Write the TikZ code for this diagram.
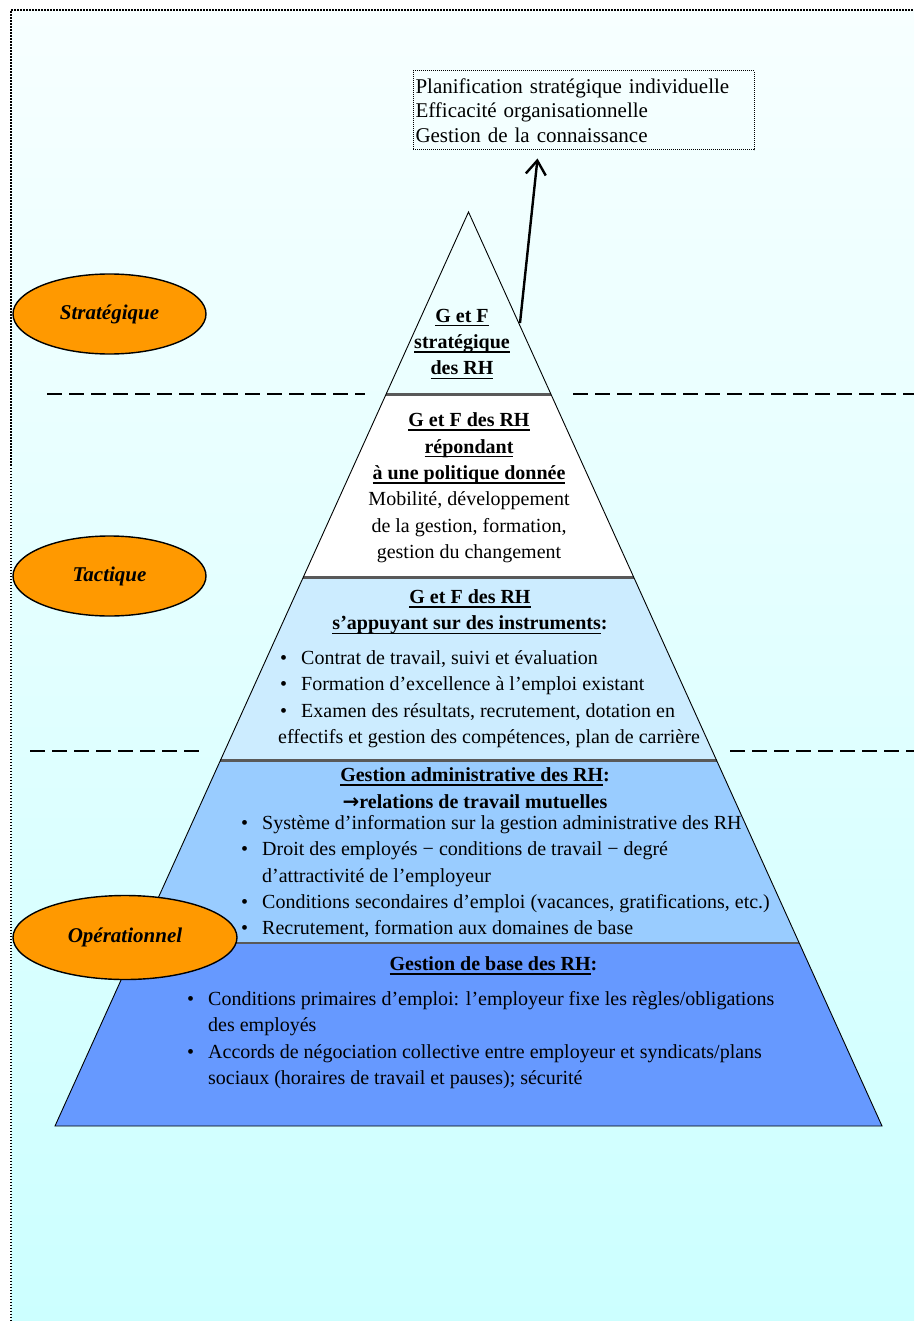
\documentclass[tikz,border=0pt]{standalone}
\usepackage{fontspec}
\setmainfont{Liberation Serif}
\newfontfamily\arrowfont{DejaVu Sans}
\usetikzlibrary{arrows.meta,shapes.geometric,calc}
\definecolor{bgtop}{RGB}{247,255,255}
\definecolor{bgbottom}{RGB}{204,255,255}
\definecolor{levelorange}{RGB}{255,153,0}
\definecolor{paleblue}{RGB}{204,236,255}
\definecolor{midblue}{RGB}{153,204,255}
\definecolor{deepblue}{RGB}{102,153,255}
\newcommand{\itm}{\llap{\textbullet\hspace{14pt}}}
\newcommand{\uln}[1]{\setbox0\hbox{#1}\rlap{\vrule height -2.6pt depth 4.1pt width \wd0}\box0}

\begin{document}
\begin{tikzpicture}[x=1pt,y=-1pt,
	every node/.style={inner sep=0pt},
	bodytext/.style={font=\fontsize{20}{26.4}\selectfont, align=left},
	headtext/.style={font=\fontsize{20}{26.4}\selectfont\bfseries, align=center},
	level/.style={ellipse, draw, line width=1.4pt, fill=levelorange, minimum width=193pt, minimum height=80pt, font=\fontsize{21}{25}\selectfont\bfseries\itshape},
	tierline/.style={line width=2.6pt, draw=black!65},
	sepline/.style={line width=1.8pt, dash pattern=on 15pt off 7pt},
	goalarrow/.style={line width=2.4pt, -{Straight Barb[length=14pt,width=20pt]}}]
	\useasboundingbox (0,0) rectangle (914,1321);
	\shade[top color=bgtop, bottom color=bgbottom] (11,10) rectangle (914,1321);
	\draw[line width=1.5pt, dash pattern=on 1.5pt off 1.5pt] (11,1321) -- (11,10) -- (914,10);

	\coordinate (apex) at (468.5,212);
	\coordinate (bl) at (55,1126);
	\coordinate (br) at (882,1126);
	\foreach \k in {1,2,3,4} {
		\coordinate (l\k) at ($(apex)!\k/5!(bl)$);
		\coordinate (r\k) at ($(apex)!\k/5!(br)$);
	}
	\fill[white] (l1) -- (r1) -- (r2) -- (l2) -- cycle;
	\fill[paleblue] (l2) -- (r2) -- (r3) -- (l3) -- cycle;
	\fill[midblue] (l3) -- (r3) -- (r4) -- (l4) -- cycle;
	\fill[deepblue] (l4) -- (r4) -- (br) -- (bl) -- cycle;
	\foreach \k in {1,2,3,4}
		\draw[tierline] (l\k) -- (r\k);
	\draw[line width=0.9pt] (apex) -- (bl) -- (br) -- cycle;

	\draw[sepline] (47,394) -- (365,394);
	\draw[sepline] (573,394) -- (914,394);
	\draw[sepline] (30,751) -- (200,751);
	\draw[sepline] (730,751) -- (914,751);

	\node[level] (strategic) at (109.5,314) {Stratégique};
	\node[level] (tactical) at (109.5,576) {Tactique};
	\node[level, minimum width=224pt, minimum height=84pt] (operational) at (125,937.5) {Opérationnel};

	\node[draw, line width=1pt, dash pattern=on 1pt off 1pt, minimum width=341pt, minimum height=79pt,
		text width=336pt, align=left, font=\fontsize{21}{24.5}\selectfont] (goalbox) at (583.5,110.5)
		{Planification stratégique individuelle\\Efficacité organisationnelle\\Gestion de la connaissance};
	\coordinate (arrtail) at (520,323);
	\draw[goalarrow] (arrtail) -- ([xshift=-46pt,yshift=-8pt]goalbox.south);

	\node[headtext] (tier1text) at (462,344) {\uln{G et F}\\\uln{stratégique}\\\uln{des RH}};

	\node[headtext] (tier2text) at (469,488) {\uln{G et F des RH}\\\uln{répondant}\\\uln{à une politique donnée}\\
		\mdseries Mobilité, développement\\\mdseries de la gestion, formation,\\\mdseries gestion du changement};

	\node[headtext] (tier3head) at (470,612) {\uln{G et F des RH}\\\uln{s’appuyant sur des instruments}:};
	\node[bodytext, anchor=west] (tier3list) at (301,699) {\itm Contrat de travail, suivi et évaluation\\
		\itm Formation d’excellence à l’emploi existant\\
		\itm Examen des résultats, recrutement, dotation en\\
		\hspace*{-23pt}effectifs et gestion des compétences, plan de carrière};

	\node[headtext] (tier4head) at (475,788) {\uln{Gestion administrative des RH}:\\{\arrowfont\bfseries →}relations de travail mutuelles};
	\node[bodytext, anchor=west] (tier4list) at (262,876.5) {\itm Système d’information sur la gestion administrative des RH\\
		\itm Droit des employés − conditions de travail − degré\\
		d’attractivité de l’employeur\\
		\itm Conditions secondaires d’emploi (vacances, gratifications, etc.)\\
		\itm Recrutement, formation aux domaines de base};

	\node[headtext] (tier5head) at (493.5,966) {\uln{Gestion de base des RH}:};
	\node[bodytext, anchor=west] (tier5list) at (208,1040) {\itm Conditions primaires d’emploi: l’employeur fixe les règles/obligations\\
		des employés\\
		\itm Accords de négociation collective entre employeur et syndicats/plans\\
		sociaux (horaires de travail et pauses); sécurité};
\end{tikzpicture}
\end{document}
